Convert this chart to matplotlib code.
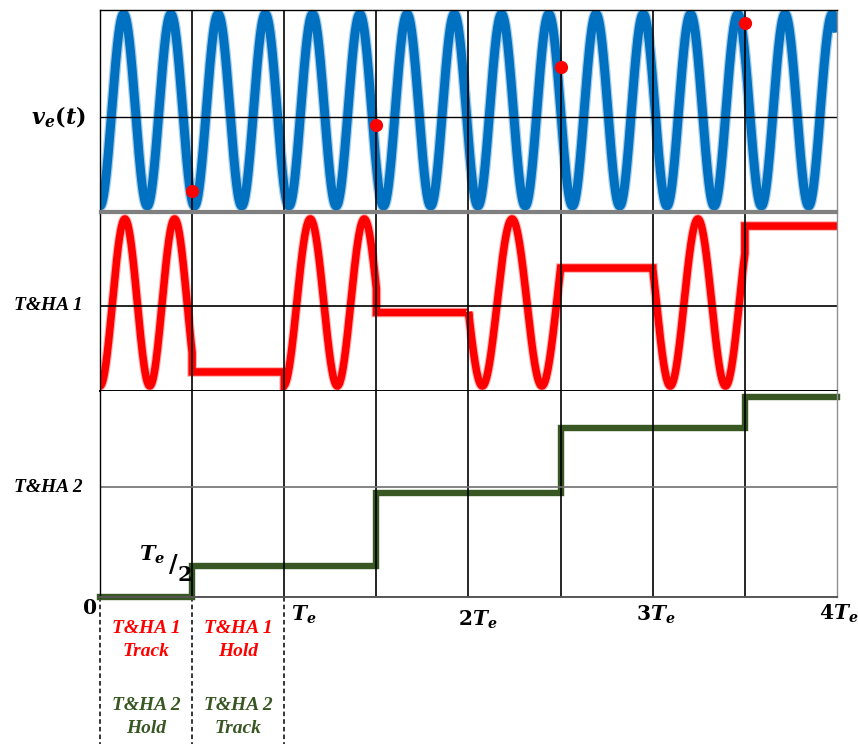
import numpy as np
import matplotlib
matplotlib.use("Agg")
import matplotlib.pyplot as plt
from matplotlib.transforms import blended_transform_factory

plt.rcParams['mathtext.fontset'] = 'dejavuserif'

# ---------------- data (time in units of Te) ----------------
input_cycles_per_Te = 3.9              # v_e(t) : -cos(2*pi*f*t)
sample_times = [0.5, 1.5, 2.5, 3.5]
sample_values = [-0.844, -0.156, 0.451, 0.903]

# T&HA 1 : track phases (sinusoid, trough time & period) then hold phases
tha1_track_start = [0.0, 1.0, 2.0, 3.0]
tha1_track_end = [0.5, 1.5, 2.5, 3.5]
tha1_track_trough = [0.0, 0.995, 2.075, 3.095]
tha1_track_period = [0.27, 0.293, 0.323, 0.30]
tha1_hold_values = [-0.832, -0.12, 0.413, 0.916]

# T&HA 2 : staircase
tha2_step_times = [0.0, 0.5, 1.5, 2.5, 3.5, 4.0]
tha2_levels = [0.0, 0.150, 0.505, 0.820, 0.971, 0.971]

grid_times = [0.5, 1.0, 1.5, 2.0, 2.5, 3.0, 3.5]
tick_times = [0.0, 1.0, 2.0, 3.0, 4.0]
tick_labels = [r'$\mathbf{0}$', r'$\mathbfit{T_e}$', r'$\mathbf{2}\mathbfit{T_e}$',
               r'$\mathbf{3}\mathbfit{T_e}$', r'$\mathbf{4}\mathbfit{T_e}$']
row_labels = [r'$\mathbfit{v_e}\mathbf{(}\mathbfit{t}\mathbf{)}$', 'T&HA 1', 'T&HA 2']
phase_times = [0.25, 0.75]
phase_labels_1 = ['T&HA 1\nTrack', 'T&HA 1\nHold']
phase_labels_2 = ['T&HA 2\nHold', 'T&HA 2\nTrack']

BLUE = '#0070C0'
RED = '#FF0000'
GREEN = '#385723'
SERIF = ['Liberation Serif', 'DejaVu Serif']

W, H = 858, 744
fig = plt.figure(figsize=(W / 100, H / 100), dpi=100)

def fx(x):
    return x / W

def fy(y):
    return 1 - y / H

left, right = 100, 837
ax1 = fig.add_axes([fx(left), fy(211), fx(right - left), fy(10) - fy(211)])
ax2 = fig.add_axes([fx(left), fy(391), fx(right - left), fy(213) - fy(391)])
ax3 = fig.add_axes([fx(left), fy(597), fx(right - left), fy(391) - fy(597)])

for ax in (ax1, ax2, ax3):
    ax.set_xlim(0, 4)
    ax.set_xticks([])
    ax.set_yticks([])
    for t in grid_times:
        ax.axvline(t, color='black', lw=1.2, zorder=3)

ax1.set_ylim(-1.052, 1.042)
ax2.set_ylim(-1.06, 1.072)
ax3.set_ylim(0, 1)

# spines
for ax in (ax1, ax2, ax3):
    for s in ax.spines.values():
        s.set_linewidth(1.0)
        s.set_color('black')
        s.set_zorder(3)
ax1.spines['bottom'].set_color('#808080')
ax1.spines['bottom'].set_linewidth(1.6)
ax2.spines['top'].set_color('#808080')
ax2.spines['top'].set_linewidth(1.6)
ax2.spines['bottom'].set_linewidth(1.4)
ax3.spines['top'].set_visible(False)
ax3.spines['bottom'].set_color('#555555')
ax3.spines['bottom'].set_linewidth(1.4)
for ax in (ax1, ax2, ax3):
    ax.spines['right'].set_color('#909090')

# horizontal mid lines
ax1.axhline(-0.073, color='black', lw=1.0, zorder=3)
ax2.axhline(-0.036, color='black', lw=1.2, zorder=3)
ax3.axhline(0.534, color='#707070', lw=1.2, zorder=3)

# ---- v_e(t) ----
t = np.linspace(0, 4, 6000)
v = -np.cos(2 * np.pi * input_cycles_per_Te * t)
ax1.plot(t, v, color=BLUE, lw=8.2, alpha=0.35, zorder=2, solid_capstyle='butt')
ax1.plot(t, v, color=BLUE, lw=6.4, zorder=2, solid_capstyle='butt')
ax1.plot(sample_times, sample_values, 'o', color=RED, ms=9.5, zorder=5,
         markeredgewidth=0)

# ---- T&HA 1 ----
xs, ys = [], []
for ts, te, tr, per, hv in zip(tha1_track_start, tha1_track_end,
                               tha1_track_trough, tha1_track_period,
                               tha1_hold_values):
    tt = np.linspace(ts, te, 300)
    xs.extend(tt)
    ys.extend(-np.cos(2 * np.pi * (tt - tr) / per))
    xs.extend([te, te + 0.5])
    ys.extend([hv, hv])
ax2.plot(xs, ys, color=RED, lw=7.0, alpha=0.3, zorder=2, solid_joinstyle='miter')
ax2.plot(xs, ys, color=RED, lw=5.4, zorder=2, solid_joinstyle='miter')

# ---- T&HA 2 ----
ax3.step(tha2_step_times, tha2_levels, where='post', color=GREEN, lw=4.6,
         zorder=2, clip_on=False, solid_joinstyle='miter')

# ---- row labels ----
fig.text(fx(58), fy(117), row_labels[0], fontsize=16, ha='center', va='center')
fig.text(fx(48), fy(305), row_labels[1], fontsize=14, ha='center', va='center',
         family=SERIF, weight='bold', style='italic')
fig.text(fx(48), fy(487), row_labels[2], fontsize=14, ha='center', va='center',
         family=SERIF, weight='bold', style='italic')

# ---- x tick labels ----
tr3 = blended_transform_factory(ax3.transData, fig.transFigure)
tick_offsets = [(-10, 608), (20, 615), (9, 620), (3, 615), (2, 614)]
for tm, lab, (dx, yy) in zip(tick_times, tick_labels, tick_offsets):
    x_px = left + tm * (right - left) / 4 + dx
    fig.text(fx(x_px), fy(yy), lab, fontsize=14.5, ha='center', va='center')

# Te/2 label
fig.text(fx(152), fy(555), r'$\mathbfit{T_e}$', fontsize=15, ha='center', va='center')
fig.text(fx(173), fy(565), r'$\mathbf{/}$', fontsize=17, ha='center', va='center')
fig.text(fx(184), fy(575), r'$\mathbf{2}$', fontsize=15, ha='center', va='center')

# ---- dashed phase separators ----
for tm in [0.0, 0.5, 1.0]:
    ax3.plot([tm, tm], [fy(597), 0.0], transform=tr3, color='black', lw=1.1,
             ls=(0, (3, 2)), clip_on=False, zorder=1)

# ---- phase labels ----
for tm, l1, l2 in zip(phase_times, phase_labels_1, phase_labels_2):
    fig.text(tm, fy(640), l1, transform=tr3, fontsize=14, ha='center',
             va='center', color=RED, family=SERIF, weight='bold',
             style='italic', linespacing=1.45)
    fig.text(tm, fy(717), l2, transform=tr3, fontsize=14, ha='center',
             va='center', color=GREEN, family=SERIF, weight='bold',
             style='italic', linespacing=1.45)

fig.savefig('out.png', dpi=100)
